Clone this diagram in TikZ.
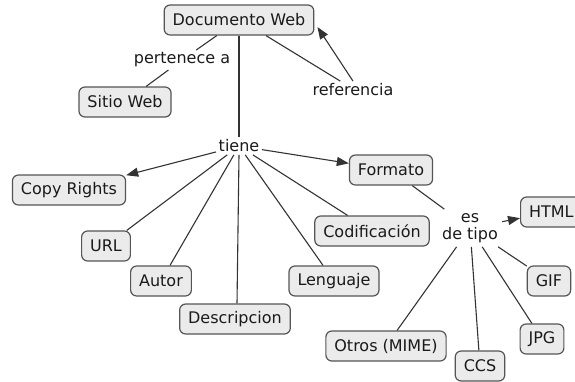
\documentclass[tikz,border=0pt]{standalone}
\usepackage{fontspec}
\setmainfont{DejaVu Sans}
\usetikzlibrary{arrows.meta}
\definecolor{boxfill}{HTML}{EBEBEB}
\definecolor{boxline}{HTML}{555555}
\definecolor{linkc}{HTML}{333333}
\definecolor{txt}{HTML}{1A1A1A}
\begin{document}
\begin{tikzpicture}[x=1pt,y=-1pt,
  concept/.style={draw=boxline,fill=boxfill,line width=1.2pt,rounded corners=6pt,
    minimum height=30pt,inner xsep=8.5pt,inner ysep=2pt,text=txt,
    font=\fontsize{16}{19}\selectfont},
  phrase/.style={inner sep=2.5pt,text=txt,font=\fontsize{16}{19}\selectfont,align=center},
  conn/.style={draw=linkc,line width=1.1pt},
  arr/.style={conn,-{Triangle[length=12pt,width=9pt]}}]
\useasboundingbox (0,0) rectangle (575,381);
\clip (0,0) rectangle (575,381);
% concepts
\node[concept] (dw) at (239,20) {Documento Web};
\node[concept] (sitio) at (125,102) {Sitio Web};
\node[concept] (copy) at (69,190) {Copy Rights};
\node[concept] (url) at (106,246) {URL};
\node[concept] (autor) at (161,281) {Autor};
\node[concept] (desc) at (235,319) {Descripcion};
\node[concept] (leng) at (334,281) {Lenguaje};
\node[concept] (codif) at (372,231) {Codificación};
\node[concept] (formato) at (391,170) {Formato};
\node[concept,anchor=west] (html) at (520,212) {HTML};
\node[concept] (gif) at (549,281) {GIF};
\node[concept] (jpg) at (542,339) {JPG};
\node[concept] (ccs) at (480,366) {CCS};
\node[concept] (otros) at (386,346) {Otros (MIME)};
% linking phrases
\node[phrase] (pert) at (182,60) {pertenece a};
\node[phrase] (ref) at (353,90) {referencia};
\node[phrase] (tiene) at (239,146) {tiene};
\node[phrase,inner sep=4pt] (tipo) at (470,228) {es\\[-2pt]de tipo};
% connectors
\draw[conn] (dw) -- (pert);
\draw[conn] (pert) -- (sitio);
\draw[conn] ([xshift=27pt]dw.south) -- (ref.145);
\draw[arr] (ref.north) -- ([xshift=3pt,yshift=-7pt]dw.east);
\draw[conn] (dw.south) -- (tiene.north);
\draw[arr] (tiene) -- (copy);
\draw[arr] (tiene) -- (formato);
\draw[conn] (tiene) -- (url);
\draw[conn] (tiene) -- (autor);
\draw[conn] (tiene.south) -- ([xshift=2pt]desc.north);
\draw[conn] (tiene) -- (leng);
\draw[conn] (tiene) -- (codif);
\draw[conn] (formato) -- (tipo);
\draw[arr] (tipo) -- (html);
\draw[conn] (tipo) -- (gif);
\draw[conn] (tipo) -- (jpg);
\draw[conn] (tipo) -- (ccs);
\draw[conn] (tipo) -- (otros);
\end{tikzpicture}
\end{document}
